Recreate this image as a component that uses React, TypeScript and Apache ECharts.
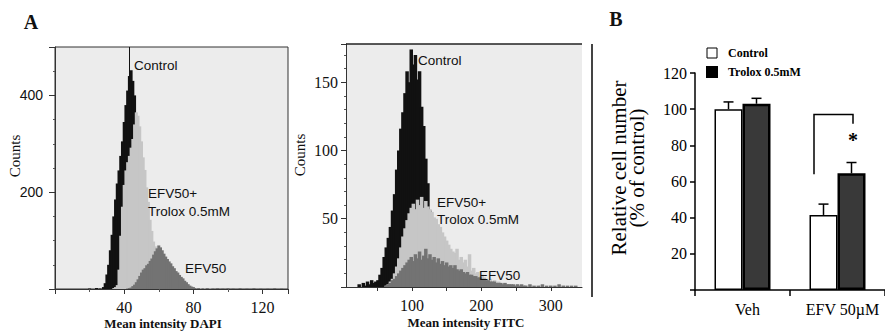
import React, { useEffect, useRef } from 'react';
import * as echarts from 'echarts';

// ---------- Panel A: DAPI histogram (1-unit bins) ----------
const dapiControl = [[20,1],[24,2],[26,1],[28,4],[29,12],[30,30],[31,50],[32,80],[33,112],[34,150],[35,185],[36,218],[37,245],[38,275],[39,305],[40,345],[41,380],[42,410],[43,440],[44,452],[45,430],[46,400],[47,330],[48,240],[49,150],[50,90],[51,45],[52,20],[53,8]];
const dapiTrolox = [[34,2],[35,4],[36,8],[37,40],[38,110],[39,170],[40,215],[41,245],[42,262],[43,275],[44,292],[45,310],[46,340],[47,365],[48,358],[49,336],[50,305],[51,272],[52,246],[53,210],[54,180],[55,143],[56,120],[57,98],[58,88],[59,74],[60,66],[61,55],[62,49],[63,41],[64,37],[65,30],[66,28],[67,22],[68,20],[69,16],[70,15],[71,12],[72,11],[73,9],[74,8],[75,6],[76,6],[77,4],[78,4],[79,3],[80,3],[82,2],[84,2],[87,1],[90,1]];
const dapiEfv = [[42,1],[43,2],[44,3],[45,6],[46,9],[47,14],[48,20],[49,27],[50,34],[51,40],[52,43],[53,49],[54,52],[55,58],[56,63],[57,71],[58,78],[59,84],[60,90],[61,86],[62,80],[63,73],[64,67],[65,62],[66,57],[67,53],[68,47],[69,43],[70,37],[71,34],[72,29],[73,25],[74,22],[75,17],[76,14],[77,10],[78,7],[79,5],[80,4],[81,2],[83,2],[85,1],[88,2],[91,1],[94,2],[97,1],[100,2],[103,1],[107,2],[111,1],[115,2],[119,1],[123,1],[127,2],[131,1]];

// ---------- Panel A: FITC histogram (3-unit bins) ----------
const fitcControl = [[24,2],[30,3],[33,1],[36,4],[39,2],[42,5],[45,3],[48,4],[51,5],[54,9],[57,14],[60,22],[63,29],[66,36],[69,44],[72,56],[75,68],[78,86],[81,100],[84,116],[87,128],[90,142],[93,158],[96,150],[99,174],[102,163],[105,170],[108,152],[111,158],[114,132],[117,118],[120,94],[123,76],[126,56],[129,42],[132,30],[135,20],[138,12],[141,7]];
const fitcTrolox = [[63,1],[66,2],[69,4],[72,6],[75,10],[78,15],[81,21],[84,29],[87,37],[90,43],[93,49],[96,54],[99,58],[102,61],[105,57],[108,64],[111,60],[114,66],[117,58],[120,63],[123,59],[126,57],[129,55],[132,51],[135,50],[138,46],[141,44],[144,40],[147,37],[150,34],[153,31],[156,28],[159,26],[162,25],[165,28],[168,20],[171,22],[174,18],[177,20],[180,15],[183,24],[186,12],[189,14],[192,10],[195,11],[198,8],[201,9],[204,7],[207,6],[210,5],[213,6],[216,4],[219,5],[222,3],[225,4],[228,3],[231,2],[234,3],[237,2],[240,2],[246,1],[252,2],[258,1],[264,1],[272,1],[285,1],[300,1],[318,1]];
const fitcEfv = [[63,1],[66,2],[69,3],[72,5],[75,6],[78,8],[81,10],[84,12],[87,14],[90,16],[93,18],[96,20],[99,22],[102,19],[105,24],[108,21],[111,26],[114,20],[117,23],[120,28],[123,21],[126,24],[129,20],[132,22],[135,18],[138,21],[141,17],[144,19],[147,16],[150,18],[153,15],[156,16],[159,14],[162,16],[165,13],[168,12],[171,13],[174,11],[177,10],[180,11],[183,9],[186,9],[189,8],[192,8],[195,7],[198,7],[201,6],[204,6],[207,5],[210,5],[213,4],[216,4],[219,4],[222,3],[225,3],[228,3],[231,2],[234,3],[237,2],[240,2],[243,2],[246,2],[249,1],[252,2],[255,1],[258,2],[261,1],[264,1],[270,2],[276,1],[282,1],[288,2],[294,1],[300,1],[306,1],[312,2],[318,1],[324,1],[330,1],[336,1]];

const dapiYLabels = [200, 400];
const fitcYLabels = [50, 100, 150];
const fitcTickValues = [50, 100, 150, 200, 250, 300];
const fitcLabelValues = [100, 200, 300];

// ---------- Panel B: bar chart ----------
const barCategories = ['Veh', 'EFV 50µM'];
const barControl = [100, 41.5];
const barTrolox = [103, 64.5];
const errControl = [104, 47.5];
const errTrolox = [106, 70.5];
const sigCategory = 1;
const sigTop = 97;
const sigLeftBottom = 64;
const sigRightBottom = 92;
const sigStarValue = 83;

const COL_BLACK = '#111111';
const COL_LIGHT = '#c6c6c6';
const COL_DARK = '#737373';
const BG = '#ececec';
const SANS = "'Liberation Sans', Arial, sans-serif";
const SERIF = "'Liberation Serif', 'Times New Roman', serif";

function hist(name: string, data: number[][], color: string, idx: number, w: number, z: number) {
  return {
    type: 'bar', name, data, xAxisIndex: idx, yAxisIndex: idx,
    barWidth: w, barGap: '-100%', itemStyle: { color }, silent: true, z,
  };
}

export default function App() {
  const ref = useRef<HTMLDivElement>(null);
  useEffect(() => {
    if (!ref.current) return;
    const chart = echarts.init(ref.current, null, { renderer: 'svg' });
    const hide0 = (v: number) => (v === 0 ? '' : String(v));
    const only = (list: number[]) => (v: number) => (list.indexOf(v) >= 0 ? String(v) : '');
    const errData = [
      ...barCategories.map((_, i) => [i, barControl[i], errControl[i], 0]),
      ...barCategories.map((_, i) => [i, barTrolox[i], errTrolox[i], 1]),
    ];
    const textStyle = (size: number, family: string, extra: any = {}) => ({ fontSize: size, fontFamily: family, fill: '#111', ...extra });
    chart.setOption({
      animation: false,
      grid: [
        { left: 55, top: 47, width: 233, height: 242, show: true, backgroundColor: BG, borderColor: '#333', borderWidth: 1 },
        { left: 346, top: 44, width: 236, height: 243, show: true, backgroundColor: BG, borderWidth: 0 },
        { left: 695, top: 73, right: -7, bottom: 43 },
      ],
      legend: {
        data: [
          { name: 'Control', itemStyle: { color: '#fff', borderColor: '#000', borderWidth: 1 } },
          { name: 'Trolox 0.5mM', itemStyle: { color: '#000' } },
        ],
        orient: 'vertical', left: 701, top: 42, itemWidth: 10, itemHeight: 10, itemGap: 7, icon: 'rect',
        selectedMode: false,
        textStyle: { fontFamily: SERIF, fontWeight: 'bold', fontSize: 12, color: '#000', padding: [0, 0, 0, 6] },
      },
      xAxis: [
        {
          gridIndex: 0, type: 'value', min: 0, max: 134.7, interval: 40,
          axisLine: { show: true, lineStyle: { color: '#333' } },
          axisTick: { show: true, length: 5, lineStyle: { color: '#333' } },
          minorTick: { show: true, splitNumber: 2, length: 3, lineStyle: { color: '#555' } },
          splitLine: { show: false }, minorSplitLine: { show: false },
          axisLabel: { formatter: hide0, showMaxLabel: false, margin: 10, fontSize: 16, fontFamily: SERIF, color: '#111' },
        },
        {
          gridIndex: 1, type: 'value', min: 5, max: 345,
          axisLine: { show: true, lineStyle: { color: '#333' } },
          axisTick: { show: true, length: 4, customValues: fitcTickValues, lineStyle: { color: '#333' } },
          splitLine: { show: false },
          axisLabel: { customValues: fitcLabelValues, margin: 10, fontSize: 16, fontFamily: SERIF, color: '#111' },
        },
        {
          gridIndex: 2, type: 'category', data: barCategories,
          axisLine: { show: true, lineStyle: { color: '#000', width: 1.5 } },
          axisTick: { show: true, length: 6, alignWithLabel: false, lineStyle: { color: '#000', width: 1.5 } },
          axisLabel: { interval: 0, margin: 11, fontSize: 16, fontFamily: SERIF, color: '#000', padding: [0, 0, 0, 10] },
        },
      ],
      yAxis: [
        {
          gridIndex: 0, type: 'value', min: 0, max: 500, interval: 200,
          axisLine: { show: true, lineStyle: { color: '#333' } },
          axisTick: { show: true, length: 6, lineStyle: { color: '#333' } },
          minorTick: { show: true, splitNumber: 4, length: 2, lineStyle: { color: '#555' } },
          splitLine: { show: false }, minorSplitLine: { show: false },
          axisLabel: { formatter: only(dapiYLabels), showMaxLabel: false, margin: 12, fontSize: 14, fontFamily: SANS, color: '#111' },
        },
        {
          gridIndex: 1, type: 'value', min: 0, max: 178, interval: 50,
          axisLine: { show: true, lineStyle: { color: '#333' } },
          axisTick: { show: true, length: 5, lineStyle: { color: '#333' } },
          minorTick: { show: true, splitNumber: 5, length: 2, lineStyle: { color: '#555' } },
          splitLine: { show: false }, minorSplitLine: { show: false },
          axisLabel: { formatter: only(fitcYLabels), showMaxLabel: false, margin: 8, fontSize: 16, fontFamily: SERIF, color: '#111' },
        },
        {
          gridIndex: 2, type: 'value', min: 0, max: 120, interval: 20,
          axisLine: { show: true, lineStyle: { color: '#000', width: 1.5 } },
          axisTick: { show: true, length: 5, lineStyle: { color: '#000', width: 1.5 } },
          splitLine: { show: false },
          axisLabel: { formatter: hide0, margin: 8, fontSize: 16, fontFamily: SERIF, color: '#000' },
        },
      ],
      series: [
        hist('DAPI Control', dapiControl, COL_BLACK, 0, 3, 2),
        hist('DAPI EFV50+Trolox', dapiTrolox, COL_LIGHT, 0, 3, 3),
        hist('DAPI EFV50', dapiEfv, COL_DARK, 0, 3, 4),
        hist('FITC Control', fitcControl, COL_BLACK, 1, 3.5, 2),
        hist('FITC EFV50+Trolox', fitcTrolox, COL_LIGHT, 1, 3.5, 3),
        hist('FITC EFV50', fitcEfv, COL_DARK, 1, 3.5, 4),
        {
          type: 'bar', name: 'Control', data: barControl, xAxisIndex: 2, yAxisIndex: 2,
          barWidth: 28, barGap: '0%',
          itemStyle: { color: '#fff', borderColor: '#000', borderWidth: 1.5 },
        },
        {
          type: 'bar', name: 'Trolox 0.5mM', data: barTrolox, xAxisIndex: 2, yAxisIndex: 2,
          barWidth: 28, barGap: '0%',
          itemStyle: { color: '#393939', borderColor: '#000', borderWidth: 2.5 },
        },
        {
          type: 'custom', name: 'errors', xAxisIndex: 2, yAxisIndex: 2, data: errData, z: 5,
          renderItem: (params: any, api: any) => {
            const cat = api.value(0), val = api.value(1), top = api.value(2), side = api.value(3);
            const off = side === 0 ? -14 : 14;
            const p0 = api.coord([cat, val]);
            const p1 = api.coord([cat, top]);
            const x = p0[0] + off;
            return {
              type: 'group', children: [
                { type: 'line', shape: { x1: x, y1: p0[1], x2: x, y2: p1[1] }, style: { stroke: '#000', lineWidth: 1.5 } },
                { type: 'line', shape: { x1: x - 5, y1: p1[1], x2: x + 5, y2: p1[1] }, style: { stroke: '#000', lineWidth: 1.5 } },
              ],
            };
          },
        },
        {
          type: 'custom', name: 'significance', xAxisIndex: 2, yAxisIndex: 2, z: 5,
          data: [[sigCategory, sigTop, sigLeftBottom, sigRightBottom, sigStarValue]],
          renderItem: (params: any, api: any) => {
            const cat = api.value(0);
            const pTop = api.coord([cat, api.value(1)]);
            const yL = api.coord([cat, api.value(2)])[1];
            const yR = api.coord([cat, api.value(3)])[1];
            const yS = api.coord([cat, api.value(4)])[1];
            const xL = pTop[0] - 23.5, xR = pTop[0] + 15.5;
            return {
              type: 'group', children: [
                { type: 'polyline', shape: { points: [[xL, yL], [xL, pTop[1]], [xR, pTop[1]], [xR, yR]] }, style: { stroke: '#000', lineWidth: 1.5, fill: 'none' } },
                { type: 'text', x: xR, y: yS, style: { text: '*', fontSize: 20, fontWeight: 'bold', fontFamily: SERIF, fill: '#000', align: 'center', verticalAlign: 'middle' } },
              ],
            };
          },
        },
      ],
      graphic: [
        { type: 'text', x: 31, y: 22, style: { text: 'A', ...textStyle(20, SERIF, { fontWeight: 'bold' }), align: 'center', verticalAlign: 'middle' } },
        { type: 'text', x: 616, y: 19, style: { text: 'B', ...textStyle(20, SERIF, { fontWeight: 'bold' }), align: 'center', verticalAlign: 'middle' } },
        { type: 'text', x: 15, y: 156, rotation: Math.PI / 2, style: { text: 'Counts', ...textStyle(15, SERIF), align: 'center', verticalAlign: 'middle' } },
        { type: 'text', x: 300, y: 155, rotation: Math.PI / 2, style: { text: 'Counts', ...textStyle(15, SERIF), align: 'center', verticalAlign: 'middle' } },
        { type: 'text', x: 163, y: 323, style: { text: 'Mean intensity DAPI', ...textStyle(13, SERIF, { fontWeight: 'bold' }), align: 'center', verticalAlign: 'middle' } },
        { type: 'text', x: 466, y: 322, style: { text: 'Mean intensity FITC', ...textStyle(13, SERIF, { fontWeight: 'bold' }), align: 'center', verticalAlign: 'middle' } },
        { type: 'line', shape: { x1: 129.5, y1: 47, x2: 129.5, y2: 80 }, style: { stroke: '#111', lineWidth: 1 }, z: 10 },
        { type: 'text', x: 134, y: 65, style: { text: 'Control', ...textStyle(13.5, SANS), verticalAlign: 'middle' }, z: 10 },
        { type: 'text', x: 148, y: 193, style: { text: 'EFV50+', ...textStyle(13.5, SANS), verticalAlign: 'middle' }, z: 10 },
        { type: 'text', x: 148, y: 211, style: { text: 'Trolox 0.5mM', ...textStyle(13.5, SANS), verticalAlign: 'middle' }, z: 10 },
        { type: 'text', x: 185, y: 268, style: { text: 'EFV50', ...textStyle(13.5, SANS), verticalAlign: 'middle' }, z: 10 },
        { type: 'text', x: 418, y: 60, style: { text: 'Control', ...textStyle(13.5, SANS), verticalAlign: 'middle' }, z: 10 },
        { type: 'text', x: 437, y: 202, style: { text: 'EFV50+', ...textStyle(13.5, SANS), verticalAlign: 'middle' }, z: 10 },
        { type: 'text', x: 437, y: 219, style: { text: 'Trolox 0.5mM', ...textStyle(13.5, SANS), verticalAlign: 'middle' }, z: 10 },
        { type: 'text', x: 479, y: 275, style: { text: 'EFV50', ...textStyle(13.5, SANS), verticalAlign: 'middle' }, z: 10 },
        { type: 'line', shape: { x1: 346, y1: 44, x2: 582, y2: 44 }, style: { stroke: '#222', lineWidth: 1.5 }, z: 10 },
        { type: 'line', shape: { x1: 592, y1: 44, x2: 592, y2: 297 }, style: { stroke: '#444', lineWidth: 2 }, z: 10 },
        { type: 'text', x: 628, y: 168, rotation: Math.PI / 2, style: { text: 'Relative cell number\n(% of control)', ...textStyle(21, SERIF), fill: '#000', align: 'center', verticalAlign: 'middle', lineHeight: 18 } },
      ],
    });
    return () => chart.dispose();
  }, []);
  return <div ref={ref} style={{ position: 'fixed', left: 0, top: 0, width: 885, height: 333, background: '#fff' }} />;
}
